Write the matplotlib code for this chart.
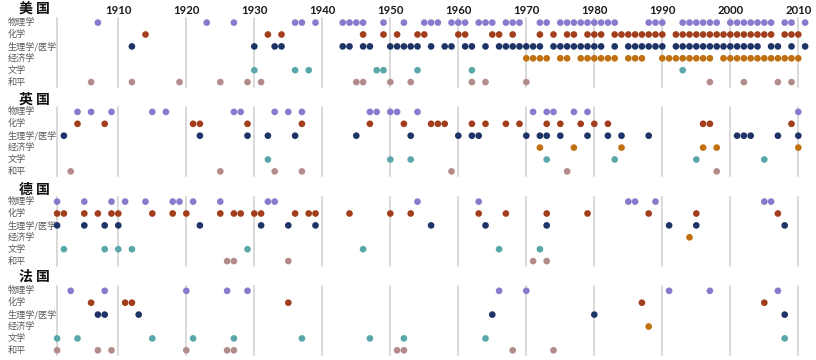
import matplotlib
matplotlib.use("Agg")
import matplotlib.pyplot as plt

plt.rcParams['font.family'] = ['Noto Sans CJK SC', 'DejaVu Sans']

countries = ['美 国', '英 国', '德 国', '法 国']
categories = ['物理学', '化学', '生理学/医学', '经济学', '文学', '和平']
decades = [1910, 1920, 1930, 1940, 1950, 1960, 1970, 1980, 1990, 2000, 2010]

# 美国
us_physics = [1907, 1923, 1927, 1936, 1937, 1939, 1943, 1944, 1945, 1946, 1949, 1952,
              1955, 1956, 1957, 1959, 1960, 1961, 1963, 1964, 1965, 1967, 1968, 1969,
              1972, 1973, 1975, 1976, 1977, 1978, 1979, 1980, 1981, 1982, 1983,
              1988, 1989, 1990, 1993, 1994, 1995, 1996, 1997, 1998,
              2000, 2001, 2002, 2003, 2004, 2005, 2006, 2008, 2009, 2011]
us_chemistry = [1914, 1932, 1934, 1946, 1949, 1951, 1954, 1955, 1960, 1961, 1965, 1966,
                1968, 1972, 1974, 1976, 1977, 1979, 1980, 1981,
                1983, 1984, 1985, 1986, 1987, 1988, 1989, 1990,
                1992, 1993, 1994, 1995, 1996, 1997, 1998, 1999, 2000, 2001, 2002, 2003,
                2004, 2005, 2006, 2008, 2009, 2010]
us_medicine = [1912, 1930, 1933, 1934, 1943, 1944, 1946, 1947, 1950, 1951, 1952, 1953,
               1954, 1956, 1958, 1959, 1961, 1962, 1964, 1966, 1967, 1968, 1969, 1970,
               1971, 1972, 1974, 1975, 1976, 1977, 1978, 1979, 1980, 1981, 1983,
               1985, 1986, 1987, 1988, 1989, 1990, 1992, 1993, 1994, 1995, 1996, 1997,
               1998, 1999, 2000, 2001, 2002, 2003, 2004, 2006, 2007, 2009, 2011]
us_economics = [1970, 1971, 1972, 1973, 1975, 1976, 1978, 1979, 1980, 1981, 1982, 1983,
                1985, 1986, 1987, 1990, 1991, 1992, 1993, 1994, 1995, 1996, 1997,
                1999, 2000, 2001, 2002, 2003, 2004, 2005, 2006, 2007, 2008, 2009, 2010]
us_literature = [1930, 1936, 1938, 1948, 1949, 1954, 1962, 1993]
us_peace = [1906, 1912, 1919, 1925, 1929, 1931, 1945, 1946, 1950, 1953, 1962, 1964,
            1970, 1997, 2002, 2007, 2009]

# 英国
uk_physics = [1904, 1906, 1909, 1915, 1917, 1927, 1928, 1933, 1935, 1937, 1947, 1948,
              1950, 1951, 1954, 1971, 1973, 1974, 1977, 1979, 2010]
uk_chemistry = [1904, 1908, 1921, 1922, 1929, 1937, 1947, 1952, 1956, 1957, 1958, 1962,
                1964, 1967, 1969, 1973, 1975, 1978, 1980, 1982, 1996, 1997, 2009]
uk_medicine = [1902, 1922, 1929, 1932, 1936, 1945, 1953, 1960, 1962, 1963, 1970, 1972,
               1973, 1975, 1979, 1982, 1984, 1988, 2001, 2002, 2003, 2007, 2010]
uk_economics = [1972, 1977, 1984, 1996, 1998, 2010]
uk_literature = [1932, 1950, 1953, 1973, 1983, 1995, 2005]
uk_peace = [1903, 1925, 1933, 1937, 1959, 1976, 1998]

# 德国
de_physics = [1901, 1905, 1909, 1911, 1914, 1918, 1919, 1921, 1925, 1932, 1933, 1954,
              1963, 1985, 1986, 1989, 2005, 2006]
de_chemistry = [1901, 1902, 1905, 1907, 1909, 1910, 1915, 1918, 1920, 1925, 1927, 1928,
                1930, 1931, 1936, 1938, 1939, 1944, 1950, 1953, 1963, 1967, 1973, 1979,
                1988, 1995, 2007]
de_medicine = [1901, 1905, 1908, 1910, 1922, 1931, 1935, 1939, 1956, 1964, 1973, 1991,
               1995, 2008]
de_economics = [1994]
de_literature = [1902, 1908, 1910, 1912, 1929, 1946, 1966, 1972]
de_peace = [1926, 1927, 1935, 1971, 1973]

# 法国
fr_physics = [1903, 1908, 1920, 1926, 1929, 1966, 1970, 1991, 1997, 2007]
fr_chemistry = [1906, 1911, 1912, 1935, 1987, 2005]
fr_medicine = [1907, 1908, 1913, 1965, 1980, 2008]
fr_economics = [1988]
fr_literature = [1901, 1904, 1915, 1921, 1927, 1937, 1947, 1952, 1964, 2008]
fr_peace = [1901, 1907, 1909, 1920, 1926, 1927, 1951, 1952, 1968, 1974]

country_data = [
    [us_physics, us_chemistry, us_medicine, us_economics, us_literature, us_peace],
    [uk_physics, uk_chemistry, uk_medicine, uk_economics, uk_literature, uk_peace],
    [de_physics, de_chemistry, de_medicine, de_economics, de_literature, de_peace],
    [fr_physics, fr_chemistry, fr_medicine, fr_economics, fr_literature, fr_peace],
]

colors = ['#8a79cc', '#a23e1c', '#1e3366', '#c0700f', '#5aa7aa', '#b48b8b']

fig = plt.figure(figsize=(8.16, 3.6), dpi=100)
ax = fig.add_axes([0, 0, 1, 1])
# 1910 at x=118.3 px, 6.8 px per year
x_left = 1910 - 118.3 / 6.8
ax.set_xlim(x_left, 1910 + (816 - 118.3) / 6.8)
ax.set_ylim(360, 0)
ax.axis('off')

panel_top = [22.6, 111.9, 201.6, 290.8]
title_y = [10, 100, 189.5, 277]
row_gap = 11.9

for p in range(len(countries)):
    y0 = panel_top[p]
    y_rows = [y0 + i * row_gap for i in range(len(categories))]
    # grid lines
    for yr in [1901] + decades:
        ax.plot([yr, yr], [y0 - 5, y_rows[-1] + 4.5], color='#cfcfcf', lw=1.1, zorder=1)
    ax.text(x_left + 19 / 6.8, title_y[p], countries[p], fontsize=10, fontweight='bold',
            color='#111111', ha='left', va='center')
    for i, cat in enumerate(categories):
        ax.text(x_left + 8 / 6.8, y_rows[i], cat, fontsize=6.6, color='#5a5a5a',
                ha='left', va='center', fontweight='light')
        yrs = country_data[p][i]
        ax.scatter(yrs, [y_rows[i]] * len(yrs), s=23, color=colors[i],
                   edgecolors='none', zorder=3)

for d in decades:
    ax.text(d, 10, str(d), fontsize=8.2, fontweight='bold', family=['Lato', 'DejaVu Sans'],
            color='#1a1a1a', ha='center', va='center')

fig.savefig('out.png', dpi=100)
